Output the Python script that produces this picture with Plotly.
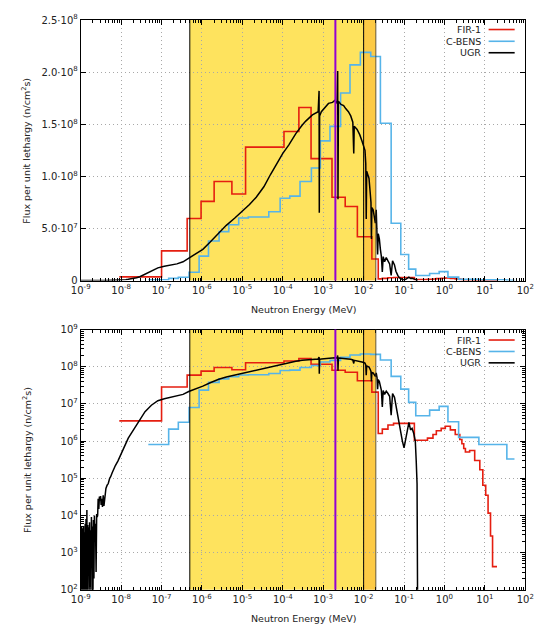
import plotly.graph_objects as go

# ---------------- data ----------------
# FIR-1 spectrum (histogram: bin edges in MeV, flux per unit lethargy)
fir_edges = [9e-9, 1e-7, 4.3e-7, 9.5e-7, 2e-6, 5.5e-6, 1.2e-5, 1.07e-4, 2.5e-4, 5e-4,
             1.65e-3, 3.5e-3, 7e-3, 1.6e-2, 2.3e-2, 2.9e-2, 4.0e-2, 5.5e-2, 0.18, 0.38,
             0.52, 0.63, 0.83, 1.05, 1.4, 1.85, 2.4, 2.7, 3.0, 3.3,
             4.2, 5.6, 7.5, 8.9, 10.5, 12.0, 13.8, 15.5, 20.0]
fir_flux = [3.5e6, 2.85e7, 5.95e7, 7.6e7, 9.5e7, 8.3e7, 1.28e8, 1.43e8, 1.66e8, 1.17e8,
            8.0e7, 7.1e7, 4.2e7, 2.07e7, 1.6e6, 2.1e6, 2.7e6, 3.0e6, 1.05e6, 1.2e6,
            1.5e6, 1.9e6, 2.2e6, 2.5e6, 2.0e6, 1.5e6, 1.1e6, 8.5e5, 6.3e5, 5.1e5,
            5.6e5, 3.0e5, 1.7e5, 6.5e4, 3.5e4, 1.15e4, 2.8e3, 4.2e2]

# C-BENS spectrum (histogram)
cbens_edges = [4.7e-8, 1.5e-7, 2.6e-7, 4.8e-7, 8.5e-7, 1.45e-6, 2.65e-6, 4.6e-6, 8.1e-6, 1.4e-5,
               4.5e-5, 8.6e-5, 1.49e-4, 2.67e-4, 5.1e-4, 8.5e-4, 1.47e-3, 2.69e-3, 4.6e-3, 8.3e-3,
               1.5e-2, 2.6e-2, 4.8e-2, 8.3e-2, 0.13, 0.195, 0.43, 0.74, 1.22, 2.24,
               7.1, 35.0, 54.0]
cbens_flux = [8.1e5, 2.1e6, 3.2e6, 8.0e6, 2.35e7, 3.8e7, 4.7e7, 5.35e7, 6.0e7, 6.1e7,
              6.6e7, 7.9e7, 8.1e7, 9.5e7, 1.08e8, 1.34e8, 1.48e8, 1.80e8, 2.07e8, 2.19e8,
              2.15e8, 1.51e8, 5.5e7, 2.5e7, 1.1e7, 4.8e6, 6.8e6, 8.6e6, 3.3e6, 1.26e6,
              8.1e5, 3.3e5]

# UGR spectrum (continuous curve)
ugr_energy = [
    1.00e-9, 1.02e-9, 1.04e-9, 1.06e-9, 1.08e-9, 1.10e-9, 1.12e-9, 1.15e-9, 1.17e-9, 1.20e-9,
    1.23e-9, 1.26e-9, 1.29e-9, 1.32e-9, 1.35e-9, 1.38e-9, 1.42e-9, 1.45e-9, 1.49e-9, 1.53e-9,
    1.57e-9, 1.61e-9, 1.65e-9, 1.70e-9, 1.74e-9, 1.79e-9, 1.84e-9, 1.89e-9, 1.94e-9, 2.00e-9,
    2.06e-9, 2.12e-9, 2.18e-9, 2.25e-9, 2.32e-9, 2.40e-9, 2.48e-9, 2.56e-9, 2.62e-9, 2.70e-9,
    2.80e-9, 2.90e-9, 3.00e-9, 3.10e-9, 3.20e-9, 3.30e-9, 3.45e-9, 3.60e-9, 3.75e-9, 3.90e-9,
    4.05e-9, 4.20e-9, 4.50e-9, 4.80e-9, 5.20e-9, 5.50e-9, 6.00e-9, 6.30e-9, 7.20e-9, 8.30e-9,
    1.00e-8, 1.15e-8, 1.30e-8, 1.50e-8, 1.70e-8, 1.90e-8, 2.40e-8, 2.90e-8, 3.90e-8, 5.60e-8,
    8.10e-8, 1.17e-7, 1.70e-7, 2.40e-7, 3.40e-7, 4.70e-7, 7.00e-7, 1.05e-6, 1.60e-6, 2.60e-6,
    4.00e-6, 6.50e-6, 9.60e-6, 1.50e-5, 2.20e-5, 3.40e-5, 5.00e-5, 7.10e-5, 1.00e-4, 1.40e-4,
    2.10e-4, 3.00e-4, 3.70e-4, 5.40e-4, 7.50e-4, 7.90e-4, 8.00e-4, 8.15e-4, 9.00e-4, 1.07e-3,
    1.35e-3, 1.70e-3, 1.95e-3, 2.20e-3, 2.28e-3, 2.32e-3, 2.38e-3, 2.75e-3, 3.20e-3, 3.60e-3,
    4.20e-3, 4.80e-3, 5.40e-3, 5.70e-3, 5.85e-3, 6.90e-3, 8.00e-3, 9.10e-3, 1.00e-2, 1.08e-2,
    1.13e-2, 1.16e-2, 1.19e-2, 1.28e-2, 1.36e-2, 1.45e-2, 1.52e-2, 1.56e-2, 1.60e-2, 1.72e-2,
    1.85e-2, 1.95e-2, 2.05e-2, 2.15e-2, 2.22e-2, 2.30e-2, 2.45e-2, 2.60e-2, 2.75e-2, 2.90e-2,
    3.05e-2, 3.30e-2, 3.63e-2, 4.00e-2, 4.40e-2, 4.80e-2, 5.20e-2, 5.80e-2, 6.30e-2, 7.00e-2,
    7.60e-2, 9.10e-2, 1.00e-1, 1.10e-1, 1.20e-1, 1.32e-1, 1.45e-1, 1.58e-1, 1.74e-1, 1.90e-1,
    2.00e-1, 2.10e-1, 2.20e-1]
ugr_flux = [
    4200, 30, 5000, 60, 3800, 20, 4500, 300, 5200, 40,
    3500, 90, 6000, 25, 8000, 150, 14000, 50, 5500, 400,
    4800, 35, 6500, 120, 4000, 60, 9000, 800, 5000, 45,
    7500, 200, 10000, 2500, 6000, 300, 11000, 9000, 1.0e4, 2.8e4,
    1.5e4, 3.2e4, 2.5e4, 3.3e4, 1.9e4, 2.8e4, 1.7e4, 3.5e4, 1.8e4, 2.6e4,
    4.5e4, 5.3e4, 6.5e4, 7.2e4, 1.0e5, 1.1e5, 1.4e5, 1.6e5, 2.2e5, 2.9e5,
    4.5e5, 6.5e5, 9.0e5, 1.2e6, 1.5e6, 1.8e6, 2.7e6, 3.7e6, 6.2e6, 9.2e6,
    1.22e7, 1.38e7, 1.5e7, 1.6e7, 1.8e7, 2.15e7, 2.5e7, 3.0e7, 3.7e7, 4.6e7,
    5.3e7, 6.0e7, 6.6e7, 7.3e7, 8.0e7, 9.0e7, 1.02e8, 1.12e8, 1.22e8, 1.30e8,
    1.41e8, 1.49e8, 1.53e8, 1.59e8, 1.62e8, 1.82e8, 6.5e7, 1.58e8, 1.62e8, 1.65e8,
    1.70e8, 1.71e8, 1.73e8, 1.70e8, 2.01e8, 7.8e7, 1.72e8, 1.69e8, 1.68e8, 1.65e8,
    1.62e8, 1.58e8, 1.52e8, 1.22e8, 1.48e8, 1.45e8, 1.40e8, 1.34e8, 1.30e8, 1.25e8,
    1.12e8, 5.9e7, 1.05e8, 1.00e8, 9.8e7, 8.5e7, 7.5e7, 4.0e7, 7.0e7, 6.8e7,
    6.0e7, 5.5e7, 6.8e7, 5.0e7, 2.5e7, 4.5e7, 4.0e7, 3.0e7, 2.3e7, 8.3e6,
    2.3e7, 1.8e7, 2.2e7, 1.9e7, 1.6e7, 5.0e6, 1.9e7, 1.5e7, 9.0e6, 5.0e6,
    2.7e6, 1.0e6, 6.6e5, 1.2e6, 1.8e6, 3.2e6, 2.0e6, 2.2e6, 1.6e6, 1.0e6,
    3.0e5, 7.0e4, 1.0e0]

# highlighted energy regions (MeV) and marker lines
band_main = [5e-7, 1e-2]
band_epi = [1e-2, 2e-2]
marker_energy = 2e-3

series_names = ["FIR-1", "C-BENS", "UGR"]
series_colors = ["#E51E10", "#56B4E9", "#000000"]

x_tickvals = [10.0 ** k for k in range(-9, 3)]
x_ticktext = ["10<sup>%d</sup>" % k for k in range(-9, 3)]
x_minor = [m * 10.0 ** k for k in range(-9, 2) for m in range(2, 10)]
ylin_tickvals = [0, 5e7, 1e8, 1.5e8, 2e8, 2.5e8]
ylin_ticktext = ["0", "5.0·10<sup>7</sup>", "1.0·10<sup>8</sup>", "1.5·10<sup>8</sup>",
                 "2.0·10<sup>8</sup>", "2.5·10<sup>8</sup>"]
ylog_tickvals = [10.0 ** k for k in range(2, 10)]
ylog_ticktext = ["10<sup>%d</sup>" % k for k in range(2, 10)]
ylog_minor = [m * 10.0 ** k for k in range(2, 9) for m in range(2, 10)]

# ---------------- figure ----------------
W, H = 542, 633
FONT = "DejaVu Sans"
GRID = dict(showgrid=True, gridcolor="#A8A8A8", griddash="1px,3px", gridwidth=1)


def px_x(p):
    return p / W


def px_y(p):
    return 1 - p / H


fig = go.Figure()


def step_xy(edges, vals):
    return list(edges), list(vals) + [vals[-1]]


for xa, ya in [("x", "y"), ("x2", "y2")]:
    fx, fy = step_xy(fir_edges, fir_flux)
    cx, cy = step_xy(cbens_edges, cbens_flux)
    fig.add_trace(go.Scatter(x=fx, y=fy, mode="lines", line=dict(color=series_colors[0], width=1.6, shape="hv"),
                             xaxis=xa, yaxis=ya, showlegend=False, name=series_names[0], hoverinfo="skip"))
    fig.add_trace(go.Scatter(x=cx, y=cy, mode="lines", line=dict(color=series_colors[1], width=1.6, shape="hv"),
                             xaxis=xa, yaxis=ya, showlegend=False, name=series_names[1], hoverinfo="skip"))
    fig.add_trace(go.Scatter(x=ugr_energy, y=ugr_flux, mode="lines", line=dict(color=series_colors[2], width=1.5),
                             xaxis=xa, yaxis=ya, showlegend=False, name=series_names[2], hoverinfo="skip"))

shapes = []
for xr, yr in [("x", "y domain"), ("x2", "y2 domain")]:
    shapes.append(dict(type="rect", xref=xr, yref=yr, x0=band_main[0], x1=band_main[1], y0=0, y1=1,
                       fillcolor="#FEE35E", line=dict(width=0), layer="below"))
    shapes.append(dict(type="rect", xref=xr, yref=yr, x0=band_epi[0], x1=band_epi[1], y0=0, y1=1,
                       fillcolor="#FDCA45", line=dict(width=0), layer="below"))
    for xv, col, w in [(band_main[0], "#000000", 1), (band_main[1], "#000000", 1),
                       (band_epi[1], "rgba(60,50,30,0.6)", 1.3), (marker_energy, "#9400D3", 2)]:
        shapes.append(dict(type="line", xref=xr, yref=yr, x0=xv, x1=xv, y0=0, y1=1,
                           line=dict(color=col, width=w), layer="above"))

annotations = []
# legends (text, then line sample, gnuplot style)
for ys in [(23, 35, 46.7), (340, 351.7, 363.3)]:
    for name, col, yy in zip(series_names, series_colors, ys):
        annotations.append(dict(xref="paper", yref="paper", x=px_x(490), y=px_y(yy), text=name,
                                showarrow=False, xanchor="right", yanchor="middle",
                                font=dict(family=FONT, size=9.5, color="#222")))
        shapes.append(dict(type="line", xref="paper", yref="paper", x0=px_x(496), x1=px_x(523),
                           y0=px_y(yy), y1=px_y(yy), line=dict(color=col, width=1.6), layer="above"))

# axis titles
for yy in (308.5, 624):
    annotations.append(dict(xref="paper", yref="paper", x=px_x(303.7), y=px_y(yy), text="Neutron Energy (MeV)",
                            showarrow=False, xanchor="center", yanchor="middle",
                            font=dict(family=FONT, size=9.5, color="#222")))
for yy in (146.3, 462):
    annotations.append(dict(xref="paper", yref="paper", x=px_x(17), y=px_y(yy),
                            text="Flux per unit lethargy (n/cm<sup>2</sup>s)", textangle=-90,
                            showarrow=False, xanchor="center", yanchor="middle",
                            font=dict(family=FONT, size=9.5, color="#222")))

xdom = [px_x(73.3), px_x(534)]
common_x = dict(type="log", range=[-9, 2], tickvals=x_tickvals, ticktext=x_ticktext,
                ticks="inside", ticklen=5, tickcolor="black", showline=True, linecolor="black",
                linewidth=1, mirror="allticks", zeroline=False, ticklabeloverflow="allow",
                tickfont=dict(family=FONT, size=10, color="#222"),
                minor=dict(tickvals=x_minor, ticks="inside", ticklen=3, tickcolor="black", showgrid=False),
                domain=xdom, **GRID)

fig.update_layout(
    width=W, height=H, margin=dict(l=0, r=0, t=0, b=0), hovermode=False,
    paper_bgcolor="white", plot_bgcolor="white", showlegend=False,
    xaxis=dict(common_x, anchor="y"),
    xaxis2=dict(common_x, anchor="y2"),
    yaxis=dict(type="linear", range=[0, 2.5e8], domain=[px_y(279.3), px_y(13.3)], anchor="x",
               tickvals=ylin_tickvals, ticktext=ylin_ticktext, ticks="inside", ticklen=5,
               tickcolor="black", showline=True, linecolor="black", linewidth=1, mirror="allticks",
               zeroline=False, ticklabeloverflow="allow",
               tickfont=dict(family=FONT, size=10, color="#222"), **GRID),
    yaxis2=dict(type="log", range=[2, 9], domain=[px_y(595), px_y(329.3)], anchor="x2",
                tickvals=ylog_tickvals, ticktext=ylog_ticktext, ticks="inside", ticklen=5,
                tickcolor="black", showline=True, linecolor="black", linewidth=1, mirror="allticks",
                zeroline=False, ticklabeloverflow="allow",
                tickfont=dict(family=FONT, size=10, color="#222"),
                minor=dict(tickvals=ylog_minor, ticks="inside", ticklen=3, tickcolor="black", showgrid=False),
                **GRID),
    shapes=shapes, annotations=annotations,
)

fig.write_html("out.html", config={"displayModeBar": False},
               post_script="document.body.style.margin='0';document.body.style.overflow='hidden';")
